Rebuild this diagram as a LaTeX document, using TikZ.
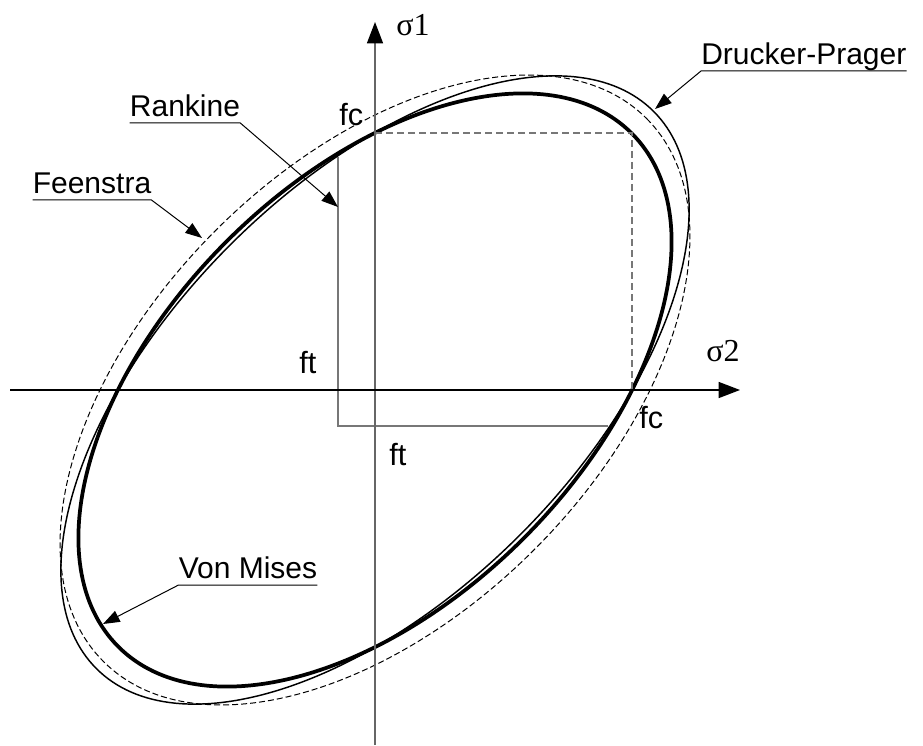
\documentclass[tikz,border=0pt]{standalone}
\usepackage{fontspec}
\setmainfont{Liberation Sans}
\newfontfamily\serifsig{Liberation Serif}
\usetikzlibrary{arrows.meta}
\definecolor{axisGray}{HTML}{666666}
\definecolor{boxGray}{HTML}{777777}

\begin{document}
\begin{tikzpicture}[x=0.75pt,y=-0.75pt,
  lbl/.style={font=\fontsize{22.5}{27}\selectfont,inner xsep=0pt,inner ysep=4.5pt,text depth=0pt,anchor=south},
  val/.style={font=\fontsize{23}{27}\selectfont,inner sep=0pt,anchor=base west},
  sig/.style={font=\serifsig\fontsize{24}{28}\selectfont,inner sep=0pt,anchor=base west},
  leader/.style={line width=0.75pt,-{Triangle[length=12.5pt,width=9pt]}},
  axis/.style={line width=1pt,-{Triangle[length=16pt,width=12pt,color=black]}},
  vonmises/.style={line width=2.8pt},
  drucker/.style={line width=1.1pt},
  feenstra/.style={line width=0.75pt,dash pattern=on 4.5pt off 2.25pt},
  rankine/.style={draw=boxGray,line width=1pt},
  fcbox/.style={draw=boxGray,line width=1pt,dash pattern=on 5.25pt off 3pt}]
  \useasboundingbox (0,0) rectangle (923,745);

  % origin and axis ends
  \coordinate (o) at (375,390);
  \coordinate (xl) at (10,390);
  \coordinate (xr) at (740,390);
  \coordinate (yb) at (375,745);
  \coordinate (yt) at (375,22);

  % failure surfaces
  \draw[feenstra, rotate around={45:(o)}] (o) ellipse [x radius=384, y radius=225.5];
  \draw[drucker, rotate around={45:(o)}] (o) ellipse [x radius=394, y radius=205];
  \draw[vonmises, rotate around={45:(o)}] (o) ellipse [x radius=363, y radius=210];

  % Rankine cut-off and fc square
  \coordinate (rkTop) at (338,157);
  \coordinate (rkCorner) at (338,426);
  \coordinate (rkEnd) at (608,426);
  \draw[rankine] (rkTop) -- (rkCorner) -- (rkEnd);
  \coordinate (fcUp) at (375,133);
  \coordinate (fcCorner) at (632,133);
  \coordinate (fcRight) at (632,390);
  \draw[fcbox] (fcUp) -- (fcCorner) -- (fcRight);

  % axes
  \draw[axis, draw=axisGray] (yb) -- (yt);
  \draw[axis] (xl) -- (xr);
  \node[sig] (s1) at (396,36) {σ1};
  \node[sig] (s2) at (706,361) {σ2};

  % values on the axes
  \node[val] (fcTop) at (339,126) {fc};
  \node[val] (fcSide) at (639,428) {fc};
  \node[val] (ftSide) at (299,373) {ft};
  \node[val] (ftLow) at (389,465) {ft};

  % curve labels with leaders
  \node[lbl] (rk) at (185,123) {Rankine};
  \node[lbl] (fe) at (92,200) {Feenstra};
  \node[lbl, anchor=south west] (dp) at (701,71) {Drucker-Prager};
  \node[lbl] (vm) at (248,585) {Von Mises};
  \coordinate (rkTip) at (338,207);
  \coordinate (feTip) at (202,238);
  \coordinate (dpTip) at (655,109);
  \coordinate (vmTip) at (103,624);
  \draw[leader] (rk.south west) -- (rk.south east) -- (rkTip);
  \draw[leader] (fe.south west) -- (fe.south east) -- (feTip);
  \draw[leader] (dp.south east) -- (dp.south west) -- (dpTip);
  \draw[leader] (vm.south east) -- (vm.south west) -- (vmTip);
\end{tikzpicture}
\end{document}
